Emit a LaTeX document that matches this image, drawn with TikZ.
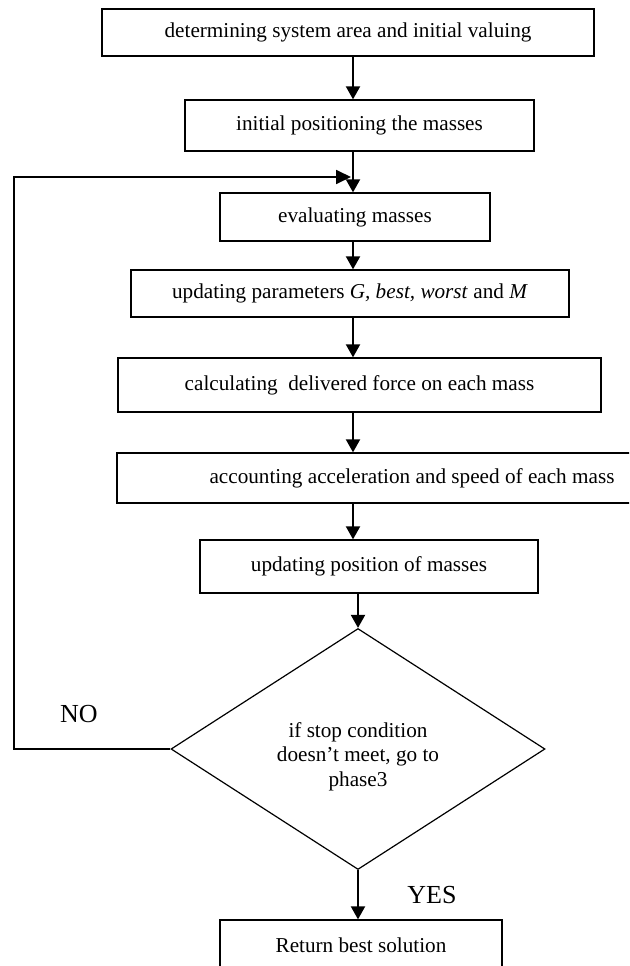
\documentclass[tikz,border=0pt]{standalone}
\usepackage{fontspec}
\setmainfont{Liberation Serif}
\usetikzlibrary{shapes.geometric,arrows.meta}
\begin{document}
\begin{tikzpicture}[x=1pt,y=-1pt,
  box/.style={draw,line width=1.3pt,inner sep=0pt,font=\fontsize{21.2}{24.4}\selectfont},
  arr/.style={line width=2pt,-{Triangle[length=13pt,width=14pt]}},
  loopline/.style={line width=1.8pt,-{Triangle[length=15pt,width=14pt]}},
  lbl/.style={font=\fontsize{26}{30}\selectfont,inner sep=0pt},
  ]
\useasboundingbox (0,0) rectangle (629,966);
\clip (0,0) rectangle (629,966);
\coordinate (xa) at (353,0);
\coordinate (xb) at (358,0);
\coordinate (lx) at (14,0);
\coordinate (loopend) at (351,177);

\node[box,minimum width=492pt,minimum height=47pt] (b1) at (348,32.5) {determining system area and initial valuing};
\node[box,minimum width=349pt,minimum height=51pt] (b2) at (359.5,125.5) {initial positioning the masses};
\node[box,minimum width=270pt,minimum height=48pt] (b3) at (355,217) {evaluating masses};
\node[box,minimum width=438pt,minimum height=47pt] (b4) at (350,293.5) {updating parameters \textit{G, best, worst} and \textit{M}};
\node[box,minimum width=483pt,minimum height=54pt] (b5) at (359.5,385) {calculating\ \ delivered force on each mass};
\node[box,minimum width=590pt,minimum height=50pt] (b6) at (412,478) {accounting acceleration and speed of each mass};
\node[box,minimum width=338pt,minimum height=53pt] (b7) at (369,566.5) {updating position of masses};
\node[box,diamond,line width=1.2pt,minimum width=374pt,minimum height=241pt,aspect=1.55] (d) at (358,749) {\raisebox{-13pt}[0pt][0pt]{\begin{tabular}{@{}c@{}}if stop condition\\doesn't meet, go to\\phase3\end{tabular}}};
\node[box,minimum width=282pt,minimum height=50pt] (b8) at (361,945) {Return best solution};

\node[lbl] (no) at (79,714) {NO};
\node[lbl] (yes) at (432,895) {YES};

\draw[arr] (b1.south -| xa) -- (b2.north -| xa);
\draw[arr] (b2.south -| xa) -- (b3.north -| xa);
\draw[arr] (b3.south -| xa) -- (b4.north -| xa);
\draw[arr] (b4.south -| xa) -- (b5.north -| xa);
\draw[arr] (b5.south -| xa) -- (b6.north -| xa);
\draw[arr] (b6.south -| xa) -- (b7.north -| xa);
\draw[arr] (b7.south -| xb) -- (d.north);
\draw[arr] (d.south) -- (b8.north -| xb);
\draw[loopline] (d.west) -- (d.west -| lx) |- (loopend);
\end{tikzpicture}
\end{document}
